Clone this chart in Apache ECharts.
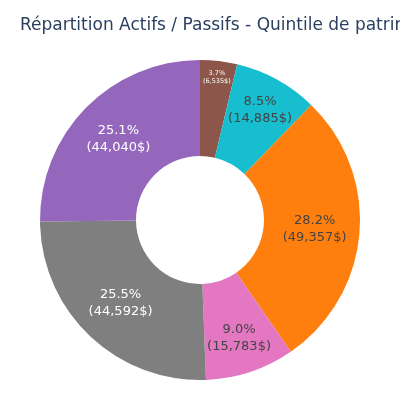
<!DOCTYPE html>
<html>
<head>
<meta charset="utf-8">
<script src="https://cdn.jsdelivr.net/npm/echarts@6/dist/echarts.min.js"></script>
<style>
    html, body { margin: 0; padding: 0; background: #fff; }
    #container_pie { width: 400px; height: 400px; }
</style>
</head>
<body>
<div id="container_pie"></div>
<script>
// slices, clockwise from 12 o'clock
var categories = ['Catégorie A', 'Catégorie B', 'Catégorie C', 'Catégorie D', 'Catégorie E', 'Catégorie F'];
var values = [6535, 14885, 49357, 15783, 44592, 44040];

// styling per slice
var colors = ['#8c564b', '#17becf', '#ff7f0e', '#e377c2', '#7f7f7f', '#9467bd'];
var labelColors = ['#fff', '#444', '#444', '#444', '#fff', '#fff'];
var labelSizes = [6.5, 13, 13, 13, 13, 13];
var labelShift = [29, 10, 0, 9, 0, 0];   // radial push of the label, px

var total = 0;
for (var i = 0; i < values.length; i++) {
    total += values[i];
}

function fmt(n) {
    return n.toString().replace(/\B(?=(\d{3})+(?!\d))/g, ',');
}

var pie_charts = echarts.init(document.getElementById('container_pie'));

var option_pie = {
    animation: false,
    title: {
        text: 'Répartition Actifs / Passifs - Quintile de patrimoine',
        left: 20,
        top: 17,
        padding: 0,
        textStyle: {
            fontFamily: 'DejaVu Sans',
            fontSize: 17,
            fontWeight: 'normal',
            color: '#2a3f5f'
        }
    },
    series: [
        {
            type: 'pie',
            radius: ['32%', '80%'],
            center: ['50%', '55%'],
            startAngle: 90,
            clockwise: true,
            avoidLabelOverlap: false,
            minShowLabelAngle: 0,
            label: {
                position: 'inside',
                fontFamily: 'DejaVu Sans',
                formatter: function (p) {
                    return (p.value / total * 100).toFixed(1) + '%\n(' + fmt(p.value) + '$)';
                }
            },
            labelLine: { show: false },
            labelLayout: function (params) {
                var cx = pie_charts.getWidth() * 0.5;
                var cy = pie_charts.getHeight() * 0.55;
                var r = params.labelRect;
                var lx = r.x + r.width / 2;
                var ly = r.y + r.height / 2;
                var dx = lx - cx, dy = ly - cy;
                var d = Math.sqrt(dx * dx + dy * dy) || 1;
                var s = labelShift[params.dataIndex];
                return { x: lx + dx / d * s, y: ly + dy / d * s };
            },
            emphasis: { disabled: true },
            data: (function () {
                var res = [];
                for (var i = 0; i < values.length; i++) {
                    res.push({
                        name: categories[i],
                        value: values[i],
                        itemStyle: { color: colors[i] },
                        label: {
                            color: labelColors[i],
                            fontSize: labelSizes[i],
                            lineHeight: Math.round(labelSizes[i] * 1.3)
                        }
                    });
                }
                return res;
            })()
        }
    ]
};

pie_charts.setOption(option_pie);
</script>
</body>
</html>
